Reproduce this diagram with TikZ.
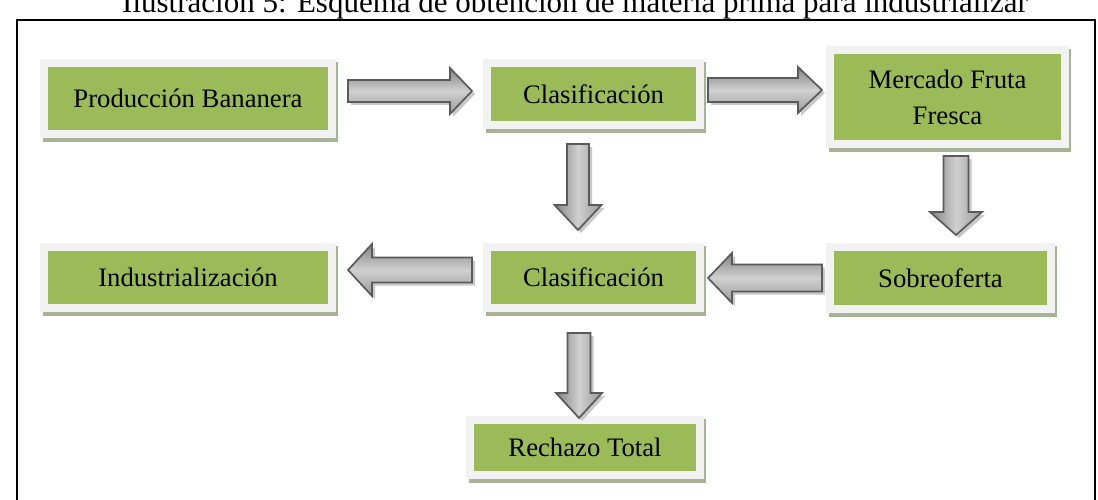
\documentclass[tikz,border=0pt]{standalone}
\usepackage{fontspec}
\setmainfont{Liberation Serif}
\usetikzlibrary{calc,backgrounds}
\definecolor{boxgreen}{HTML}{9BBB59}
\definecolor{boxframe}{HTML}{F2F2F2}
\definecolor{boxshadow}{HTML}{A8B294}
\definecolor{arrline}{HTML}{5A5A5A}
\definecolor{arrdark}{HTML}{828282}
\definecolor{arrlight}{HTML}{D0D0D0}
\definecolor{arrmid}{HTML}{9A9A9A}
\definecolor{arrshadow}{HTML}{C8C8C8}
\tikzset{
  gbox/.style={fill=boxgreen, inner sep=0pt, font=\fontsize{26.7}{36}\selectfont, align=center},
  harrowstyle/.style={draw=arrline, line width=1.7pt, line join=miter, top color=arrdark, bottom color=arrmid, middle color=arrlight},
  varrowstyle/.style={draw=arrline, line width=1.7pt, line join=miter, left color=arrdark, right color=arrmid, middle color=arrlight},
  arrshadowstyle/.style={fill=arrshadow},
}
% horizontal block arrow: tail x, head base x, tip x, centre y, shaft half, head half
\newcommand\HArr[6]{%
  \fill[arrshadowstyle, shift={(3,3)}] (#1,#4-#5) -- (#2,#4-#5) -- (#2,#4-#6) -- (#3,#4) -- (#2,#4+#6) -- (#2,#4+#5) -- (#1,#4+#5) -- cycle;
  \draw[harrowstyle] (#1,#4-#5) -- (#2,#4-#5) -- (#2,#4-#6) -- (#3,#4) -- (#2,#4+#6) -- (#2,#4+#5) -- (#1,#4+#5) -- cycle;}
% vertical block arrow: centre x, top y, head base y, tip y, shaft half, head half
\newcommand\VArr[6]{%
  \fill[arrshadowstyle, shift={(3,3)}] (#1-#5,#2) -- (#1+#5,#2) -- (#1+#5,#3) -- (#1+#6,#3) -- (#1,#4) -- (#1-#6,#3) -- (#1-#5,#3) -- cycle;
  \draw[varrowstyle] (#1-#5,#2) -- (#1+#5,#2) -- (#1+#5,#3) -- (#1+#6,#3) -- (#1,#4) -- (#1-#6,#3) -- (#1-#5,#3) -- cycle;}
% frame and shadow behind a green box
\newcommand\BoxDeco[1]{%
  \fill[boxshadow] ($(#1.north west)+(-5,-5)$) rectangle ($(#1.south east)+(10,12)$);
  \fill[boxframe] ($(#1.north west)+(-7.5,-8)$) rectangle ($(#1.south east)+(7.5,8)$);}
\begin{document}
\begin{tikzpicture}[x=1pt, y=-1pt]
\useasboundingbox (0,0) rectangle (1098,500);
\node[font=\fontsize{31}{36}\selectfont, anchor=base, inner sep=0pt] (title) at (575,13) {Ilustración 5: Esquema de obtención de materia prima para industrializar};
\draw[black, line width=1.5pt] (17,20) rectangle (1095,520);

\node[gbox, minimum width=280pt, minimum height=63pt] (prod) at (188,98.5) {Producción Bananera};
\node[gbox, minimum width=205pt, minimum height=54pt] (clas1) at (593.5,94) {Clasificación};
\node[gbox, minimum width=227pt, minimum height=86pt] (merc) at (947.5,97) {Mercado Fruta\\Fresca};
\node[gbox, minimum width=280pt, minimum height=53pt] (indu) at (188,277.5) {Industrialización};
\node[gbox, minimum width=205pt, minimum height=53pt] (clas2) at (593.5,277.5) {Clasificación};
\node[gbox, minimum width=213pt, minimum height=54pt] (sobre) at (940.5,278) {Sobreoferta};
\node[gbox, minimum width=222pt, minimum height=47pt] (rech) at (585,447.5) {Rechazo Total};

\begin{scope}[on background layer]
  \BoxDeco{prod}
  \BoxDeco{clas1}
  \BoxDeco{merc}
  \BoxDeco{indu}
  \BoxDeco{clas2}
  \BoxDeco{sobre}
  \BoxDeco{rech}
\end{scope}

\HArr{348}{450}{472}{91}{11}{23}
\HArr{708}{798}{822}{90}{12}{23}
\VArr{578}{144}{205}{230}{11}{23.5}
\VArr{956}{156}{212}{235}{12.5}{26}
\HArr{472}{372}{348}{270}{12.5}{26}
\HArr{822}{732}{708}{278}{13.5}{25}
\VArr{579}{333}{393}{418}{11.5}{23}
\end{tikzpicture}
\end{document}
